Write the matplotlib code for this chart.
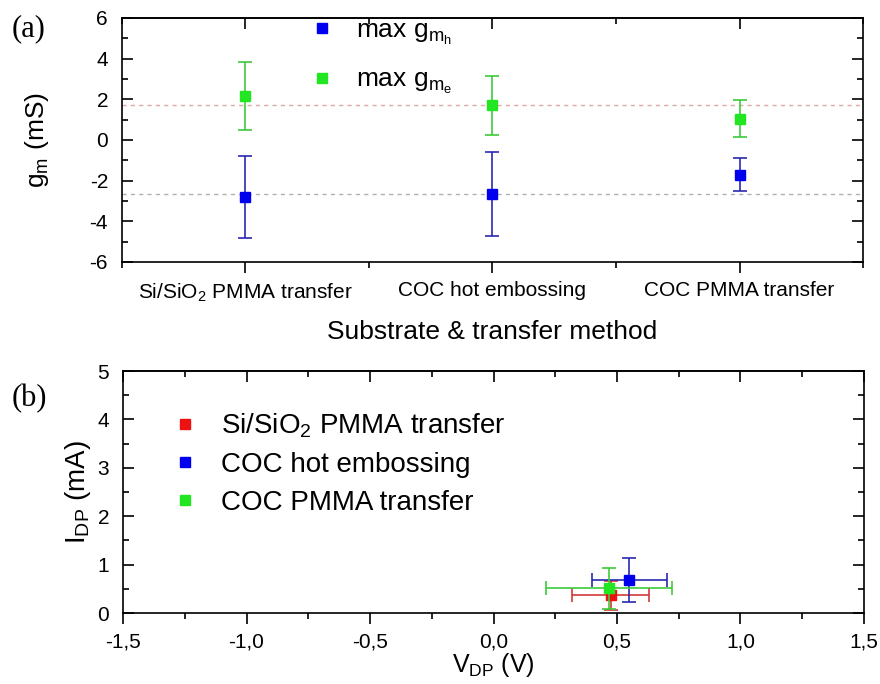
import matplotlib
matplotlib.use("Agg")
import matplotlib.pyplot as plt
from matplotlib.ticker import MultipleLocator, FuncFormatter

plt.rcParams['font.family'] = 'Liberation Sans'
plt.rcParams['mathtext.fontset'] = 'custom'
plt.rcParams['mathtext.rm'] = 'Liberation Sans'
plt.rcParams['mathtext.it'] = 'Liberation Sans:italic'
plt.rcParams['axes.linewidth'] = 1.2
plt.rcParams['axes.unicode_minus'] = False

# (a) max transconductance per substrate / transfer method
categories = ['Si/SiO$_2$ PMMA transfer', 'COC hot embossing', 'COC PMMA transfer']
gm_h = [-2.80, -2.65, -1.70]
gm_h_err = [2.00, 2.05, 0.81]
gm_e = [2.15, 1.70, 1.05]
gm_e_err = [1.67, 1.45, 0.92]
ref_e = 1.70
ref_h = -2.65

# (b) Dirac point
series = ['Si/SiO$_2$ PMMA transfer', 'COC hot embossing', 'COC PMMA transfer']
v_dp = [0.475, 0.549, 0.468]
v_dp_err = [0.156, 0.152, 0.255]
i_dp = [0.37, 0.68, 0.51]
i_dp_err = [0.30, 0.46, 0.43]

blue, blue_bar = '#0000ee', '#2a2ab0'
green, green_bar = '#22e622', '#3ccc3c'
red, red_bar = '#ee1111', '#d23a3a'

fig = plt.figure(figsize=(8.8, 6.84), dpi=100)
ax1 = fig.add_axes([0.1386, 0.617, 0.8421, 0.3567])
ax2 = fig.add_axes([0.1398, 0.1038, 0.8420, 0.3538])

pos = [1, 2, 3]
ax1.axhline(ref_e, color='#e0a8a8', ls=(0, (3, 3)), lw=1.0, zorder=1)
ax1.axhline(ref_h, color='#b0b0b0', ls=(0, (3, 3)), lw=1.0, zorder=1)
ax1.errorbar(pos, gm_h, yerr=gm_h_err, fmt='none', ecolor=blue_bar, elinewidth=1.2,
             capsize=5, capthick=1.2)
ax1.errorbar(pos, gm_e, yerr=gm_e_err, fmt='none', ecolor=green_bar, elinewidth=1.2,
             capsize=5, capthick=1.2)
ax1.plot(pos, gm_h, 's', color=blue, ms=7, label=r'max g$_{\mathrm{m}_{\mathrm{h}}}$')
ax1.plot(pos, gm_e, 's', color=green, ms=7, label=r'max g$_{\mathrm{m}_{\mathrm{e}}}$')

ax1.set_xlim(0.5, 3.5)
ax1.set_ylim(-6, 6)
ax1.set_xticks(pos)
ax1.set_xticklabels(categories, fontsize=15)
ax1.set_xticks([0.5, 1.5, 2.5, 3.5], minor=True)
ax1.yaxis.set_major_locator(MultipleLocator(2))
ax1.yaxis.set_minor_locator(MultipleLocator(1))
ax1.set_ylabel('g$_\\mathrm{m}$ (mS)', fontsize=19, labelpad=28)
ax1.set_xlabel('Substrate & transfer method', fontsize=19, labelpad=12)
ax1.legend(loc='upper left', bbox_to_anchor=(0.227, 1.095), frameon=False, fontsize=19,
           handlelength=0.6, handletextpad=1.0, labelspacing=0.8)

for x, y, xe, ye, c, cb, lab in zip(v_dp, i_dp, v_dp_err, i_dp_err,
                                     [red, blue, green], [red_bar, blue_bar, green_bar], series):
    ax2.errorbar([x], [y], xerr=[xe], yerr=[ye], fmt='none', ecolor=cb, elinewidth=1.2,
                 capsize=5, capthick=1.2)
    ax2.plot([x], [y], 's', color=c, ms=7, label=lab)

ax2.set_xlim(-1.5, 1.5)
ax2.set_ylim(0, 5)
ax2.xaxis.set_major_locator(MultipleLocator(0.5))
ax2.xaxis.set_minor_locator(MultipleLocator(0.25))
ax2.yaxis.set_major_locator(MultipleLocator(1))
ax2.yaxis.set_minor_locator(MultipleLocator(0.5))
ax2.xaxis.set_major_formatter(FuncFormatter(lambda v, p: ('%.1f' % v).replace('.', ',')))
ax2.set_xlabel('V$_\\mathrm{DP}$ (V)', fontsize=18, labelpad=0)
ax2.set_ylabel('I$_\\mathrm{DP}$ (mA)', fontsize=20, labelpad=3)
ax2.legend(loc='upper left', bbox_to_anchor=(0.039, 0.935), frameon=False, fontsize=20,
           handlelength=0.6, handletextpad=1.0, labelspacing=0.42)

for ax in (ax1, ax2):
    ax.tick_params(axis='x', which='both', direction='out', top=False, pad=6)
    ax.tick_params(axis='x', which='major', length=8, width=1.2)
    ax.tick_params(axis='x', which='minor', length=4, width=1.2)
    ax.tick_params(axis='y', which='both', direction='in', right=True, labelsize=15,
                   width=1.2, pad=10)
    ax.tick_params(axis='y', which='major', length=8)
    ax.tick_params(axis='y', which='minor', length=4)
    sec = ax.secondary_xaxis('top')
    sec.set_xticks(ax.get_xticks())
    sec.set_xticks(ax.get_xticks(minor=True), minor=True)
    sec.tick_params(axis='x', which='both', direction='in', labeltop=False, width=1.2)
    sec.tick_params(axis='x', which='major', length=8)
    sec.tick_params(axis='x', which='minor', length=4)
    sec.spines['top'].set_linewidth(1.2)
ax2.tick_params(axis='x', labelsize=15)

fig.text(0.013, 0.958, '(a)', fontsize=22, family='Liberation Serif', va='center')
fig.text(0.013, 0.418, '(b)', fontsize=22, family='Liberation Serif', va='center')

fig.savefig('out.png', dpi=100)
